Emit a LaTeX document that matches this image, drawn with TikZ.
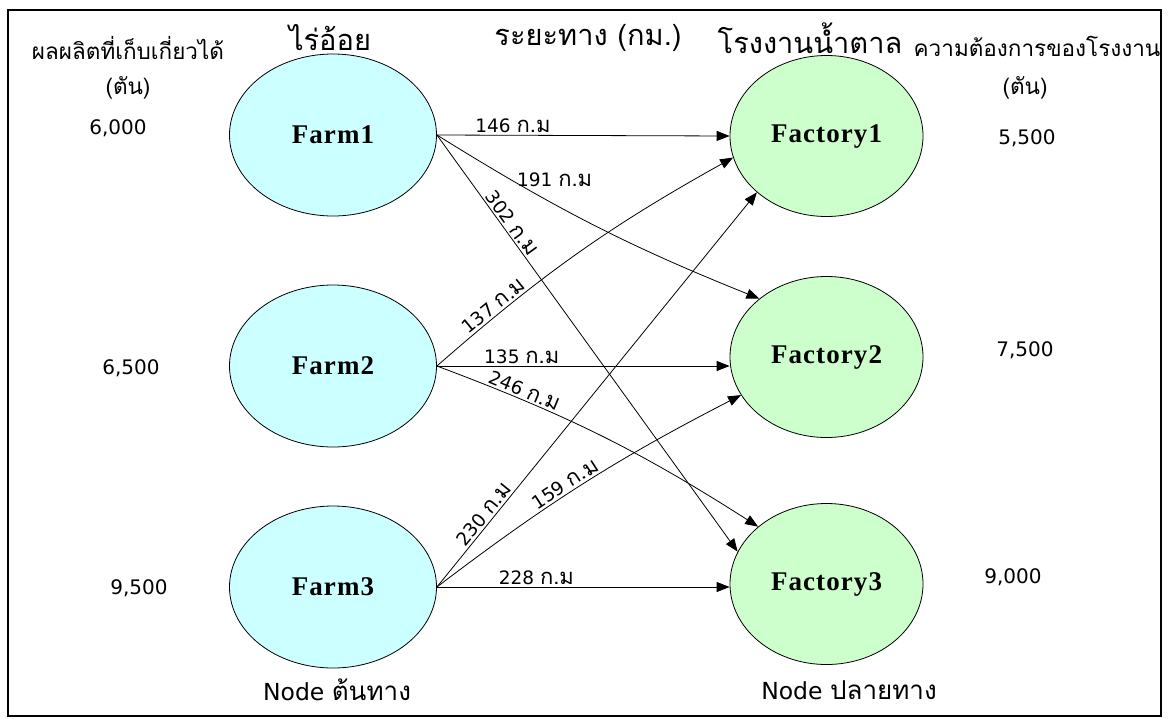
\documentclass[tikz,border=0pt]{standalone}
\usepackage{fontspec}
\setmainfont{DejaVu Sans}
\newfontfamily\thai[Script=Thai]{Loma}
\newfontfamily\dv{DejaVu Sans}
\newfontfamily\nodeserif[LetterSpace=4]{Liberation Serif}
\usetikzlibrary{arrows.meta,shapes.geometric}
\definecolor{farmfill}{HTML}{CCFFFF}
\definecolor{factfill}{HTML}{CCFFCC}
\newcommand\kmlabel[1]{{\dv #1 }{\thai\fontsize{22}{26}\selectfont ก.ม}}
\newcommand\foottext[1]{{\dv\fontsize{23.5}{28}\selectfont Node }{\thai\fontsize{26}{30}\selectfont #1}}
\begin{document}
\begin{tikzpicture}[x=1pt,y=-1pt,
  farm/.style={ellipse,draw,line width=0.8pt,fill=farmfill,inner sep=0pt,
    minimum width=207pt,minimum height=162pt,
    font=\nodeserif\bfseries\fontsize{27}{32}\selectfont},
  factory/.style={ellipse,draw,line width=0.8pt,fill=factfill,inner sep=0pt,
    minimum width=193pt,minimum height=161pt,
    font=\nodeserif\bfseries\fontsize{27}{32}\selectfont},
  route/.style={draw,line width=0.8pt,-{Triangle[length=13pt,width=10pt]}},
  dist/.style={font=\fontsize{18.5}{22}\selectfont,inner sep=2pt},
  title/.style={font=\thai\fontsize{29}{34}\selectfont,inner sep=0pt},
  sidehead/.style={font=\thai\fontsize{22.5}{26}\selectfont,inner sep=0pt},
  amount/.style={font=\dv\fontsize{20}{24}\selectfont,inner sep=0pt},
  foot/.style={inner sep=0pt}]
\useasboundingbox (0,0) rectangle (1170,718);
\draw[line width=1.6pt] (8,10) rectangle (1161,716);

% column headings
\node[title] (hfarm) at (330,38) {ไร่อ้อย};
\node[title] (hdist) at (588,38) {ระยะทาง (กม.)};
\node[title] (hfact) at (810,38) {โรงงานน้ำตาล};
\node[sidehead] (hsupply) at (128,48) {ผลผลิตที่เก็บเกี่ยวได้};
\node[sidehead] (hsupplyu) at (128,88) {(ตัน)};
\node[sidehead] (hdemand) at (1037,46) {ความต้องการของโรงงาน};
\node[sidehead] (hdemandu) at (1025,88) {(ตัน)};

% sources and destinations
\node[farm] (farm1) at (333,135) {Farm1};
\node[farm] (farm2) at (333,366) {Farm2};
\node[farm] (farm3) at (333,587) {Farm3};
\node[factory] (fac1) at (826.5,136) {Factory1};
\node[factory] (fac2) at (826.5,357) {Factory2};
\node[factory] (fac3) at (826.5,584) {Factory3};

% supply and demand figures
\node[amount] (s1) at (118,128) {6,000};
\node[amount] (s2) at (131,368) {6,500};
\node[amount] (s3) at (139,588) {9,500};
\node[amount] (d1) at (1027,138) {5,500};
\node[amount] (d2) at (1025,350) {7,500};
\node[amount] (d3) at (1013,577) {9,000};

% footers
\node[foot] (fsrc) at (337,690) {\foottext{ต้นทาง}};
\node[foot] (fdst) at (849,690) {\foottext{ปลายทาง}};

% routes
\draw[route] (farm1.east) -- (fac1.west)
  node[dist,pos=0.26,above] {\kmlabel{146}};
\draw[route] (farm1.east) to[bend right=5]
  node[dist,pos=0.35,xshift=5pt,yshift=22pt] {\kmlabel{191}} (fac2.139);
\draw[route] (farm1.east) -- (fac3.160)
  node[dist,pos=0.225,sloped,above] {\kmlabel{302}};
\draw[route] (farm2.east) to[bend left=6]
  node[dist,pos=0.21,sloped,above] {\kmlabel{137}} (fac1.193);
\draw[route] (farm2.east) -- (farm2.east -| fac2.west)
  node[dist,pos=0.29,above] {\kmlabel{135}};
\draw[route] (farm2.east) to[bend left=6]
  node[dist,pos=0.235,sloped,above] {\kmlabel{246}} (fac3.140);
\draw[route] (farm3.east) -- (fac1.219)
  node[dist,pos=0.17,sloped,above] {\kmlabel{230}};
\draw[route] (farm3.east) to[bend left=5]
  node[dist,pos=0.45,sloped,above] {\kmlabel{159}} (fac2.204);
\draw[route] (farm3.east) -- (farm3.east -| fac3.west)
  node[dist,pos=0.34,above] {\kmlabel{228}};
\end{tikzpicture}
\end{document}
